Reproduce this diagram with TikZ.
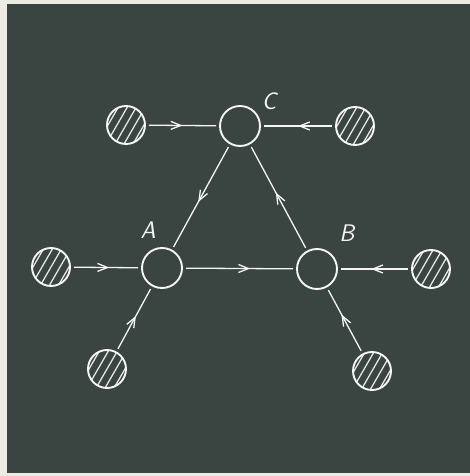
\documentclass[tikz,border=0pt]{standalone}
\usetikzlibrary{arrows.meta,decorations.markings}
\begin{document}
\begin{tikzpicture}[x=1pt,y=1pt,
  hub/.style={circle,draw=white!92!gray,line width=1.9pt,minimum size=40pt,inner sep=0pt,outer sep=4pt},
  source/.style={circle,draw=white!92!gray,line width=1.9pt,minimum size=38pt,inner sep=0pt,outer sep=4pt,
    path picture={\foreach \i in {-27,-18,...,27}
      \draw[white!80!gray,line width=1.3pt] ([xshift=\i pt]path picture bounding box.center) ++(240:30pt) -- ++(60:60pt);}},
  flow/.style={draw=white!92!gray,line width=1.3pt,postaction={decorate},
    decoration={markings,mark=at position #1 with {\arrow[white!92!gray,line width=1.3pt]{Straight Barb[length=10pt,width=8pt]}}}},
  flow/.default=0.55,
  lbl/.style={text=white!92!gray,font=\fontsize{24}{24}\selectfont\sffamily\itshape,inner sep=0pt}]
\useasboundingbox (0,0) rectangle (470,476);
\fill[color={rgb,255:red,236;green,236;blue,228}] (0,0) rectangle (470,476);
\fill[color={rgb,255:red,58;green,68;blue,64}] (7,3) rectangle (470,472);
% hubs
\node[hub] (C) at (240,350) {};
\node[hub] (A) at (162,208) {};
\node[hub] (B) at (317,207) {};
% sources
\node[source] (hc1) at (126,351) {};
\node[source] (hc2) at (355,350) {};
\node[source] (ha1) at (51,209) {};
\node[source] (ha2) at (107,107) {};
\node[source] (hb1) at (431,207) {};
\node[source] (hb2) at (372,105) {};
% labels
\node[lbl] (lc) at (269,375) {C};
\node[lbl] (la) at (148,246) {A};
\node[lbl] (lb) at (347,243) {B};
% connectors
\draw[flow=0.5] (hc1) -- (C);
\draw[flow=0.5] (hc2) -- (C);
\draw[flow=0.55] (C) -- (A);
\draw[flow=0.55] (B) -- (C);
\draw[flow=0.6] (A) -- (B);
\draw[flow=0.55] (ha1) -- (A);
\draw[flow=0.55] (ha2) -- (A);
\draw[flow=0.55] (hb1) -- (B);
\draw[flow=0.6] (hb2) -- (B);
\end{tikzpicture}
\end{document}
